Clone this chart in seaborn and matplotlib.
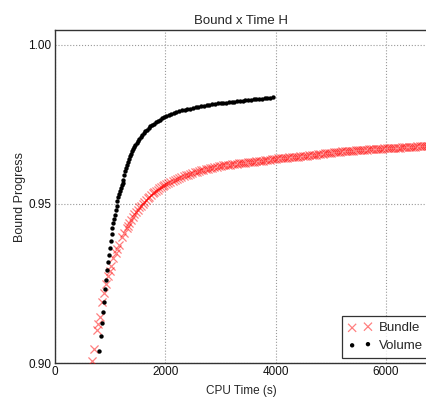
import numpy as np
import matplotlib
matplotlib.use("Agg")
import matplotlib.pyplot as plt
import seaborn as sns

# Bundle run (red crosses)
bundle_time = [670, 712, 754, 773, 815, 857, 890, 923, 965, 990, 1014, 1055, 1104, 1130, 1164,
               1210, 1249, 1297, 1320, 1350, 1380, 1410, 1440, 1470, 1500, 1530, 1560, 1590,
               1620, 1650, 1680, 1710, 1740, 1770, 1800, 1830, 1860, 1890, 1920, 1950, 1980,
               2010, 2050, 2090, 2130, 2170, 2210, 2250, 2290, 2330, 2370, 2410, 2450, 2490,
               2530, 2570, 2610, 2650, 2690, 2730, 2770, 2810, 2850, 2890, 2930, 2970,
               3010, 3050, 3090, 3130, 3170, 3210, 3250, 3290, 3330, 3370, 3410, 3450, 3490,
               3530, 3570, 3610, 3650, 3690, 3730, 3770, 3810, 3850, 3890, 3930, 3970, 4010,
               4050, 4090, 4130, 4170, 4210, 4250, 4290, 4330, 4370, 4410, 4450, 4490, 4530,
               4570, 4610, 4650, 4690, 4730, 4770, 4810, 4850, 4890, 4930, 4970, 5010, 5050,
               5090, 5130, 5170, 5210, 5250, 5290, 5330, 5370, 5410, 5450, 5490, 5530, 5570,
               5610, 5650, 5690, 5730, 5770, 5810, 5850, 5890, 5930, 5970, 6010, 6050, 6090,
               6130, 6170, 6210, 6250, 6290, 6330, 6370, 6410, 6450, 6490, 6530, 6570, 6610,
               6650, 6690, 6730, 6770]
bundle_bound = [.9007, .9043, .9104, .9122, .9144, .9193, .9220, .9248, .9274, .9290, .9305, .9329,
                .9345, .9358, .9371, .9395, .9410, .9424, .9432, .9441, .9450, .9459, .9467, .9475,
                .9482, .9489, .9495, .9501, .9507, .9512, .9518, .9523, .9528, .9533, .9537, .9541,
                .9545, .9549, .9552, .9556, .9559,
                .9562, .9565, .9569, .9572, .9575, .9579, .9582, .9585, .9587, .9590, .9592, .9595,
                .9597, .9600, .9602, .9604, .9606, .9608, .9610, .9611, .9613, .9614, .9616, .9617,
                .9619, .9620, .9621, .9622, .9623, .9624, .9625, .9626, .9627, .9628, .9628, .9629,
                .9630, .9631, .9632, .9632, .9633, .9634, .9635, .9636, .9636, .9637, .9638, .9639,
                .9640, .9641, .9642, .9643, .9644, .9644, .9645, .9646, .9647, .9647, .9648, .9649,
                .9649, .9650, .9651, .9651, .9652, .9653, .9654, .9654, .9655, .9656, .9657, .9658,
                .9659, .9659, .9660, .9661, .9662, .9663, .9663, .9664, .9665, .9665, .9666, .9667,
                .9667, .9668, .9669, .9669, .9670, .9670, .9671, .9671, .9672, .9672, .9673, .9673,
                .9673, .9674, .9674, .9675, .9675, .9675, .9676, .9676, .9677, .9677, .9677, .9678,
                .9678, .9679, .9679, .9679, .9680, .9680, .9681, .9681, .9681, .9682, .9682, .9682]

# Volume run (black dots)
volume_time = [805, 827, 845, 863, 885, 905, 922, 938, 955, 972, 990, 1008, 1025, 1042, 1058, 1073,
               1088, 1102, 1116, 1130, 1145, 1160, 1176, 1192, 1208, 1224, 1240, 1256, 1272, 1288,
               1305, 1322, 1340, 1358, 1376, 1395, 1415, 1436, 1458, 1480, 1504, 1528, 1554, 1580,
               1608, 1636, 1666, 1696, 1728, 1760, 1794, 1828, 1864, 1900, 1940, 1980, 2020, 2060,
               2100, 2150, 2200, 2250, 2300, 2350, 2400, 2450, 2500, 2550, 2600, 2650, 2700, 2750,
               2800, 2850, 2900, 2950, 3000, 3050, 3100, 3150, 3200, 3250, 3300, 3350, 3400, 3450,
               3500, 3550, 3600, 3650, 3700, 3750, 3800, 3850, 3900, 3950]
volume_bound = [.9039, .9086, .9125, .9161, .9192, .9233, .9262, .9292, .9318, .9340, .9362, .9385,
                .9405, .9424, .9440, .9453, .9466, .9480, .9495, .9510, .9521, .9531, .9540, .9550,
                .9560, .9566, .9575, .9590, .9603, .9613, .9624, .9632, .9641, .9651, .9658, .9665,
                .9672, .9679, .9685, .9691, .9698, .9705, .9711, .9717, .9723, .9729, .9734, .9739,
                .9744, .9749, .9753, .9757, .9761, .9765, .9769, .9773, .9776, .9779, .9782, .9785,
                .9788, .9791, .9794, .9796, .9798, .9800, .9802, .9804, .9806, .9807, .9809, .9810,
                .9812, .9813, .9815, .9816, .9817, .9818, .9819, .9820, .9821, .9822, .9823, .9824,
                .9825, .9826, .9827, .9828, .9829, .9830, .9831, .9831, .9832, .9833, .9834, .9835]

x_ticks = [0, 2000, 4000, 6000]
y_ticks = [0.90, 0.95, 1.00]

sns.set_style("white")
plt.rcParams['font.family'] = ['Liberation Sans', 'DejaVu Sans']

fig = plt.figure(figsize=(4.27, 4.01), dpi=100)
ax = fig.add_axes([55 / 427, 38 / 401, 372 / 427, 333 / 401])

sns.scatterplot(x=bundle_time, y=bundle_bound, marker='x', color='red', s=34,
                linewidth=0.9, alpha=0.5, label='Bundle', ax=ax, zorder=3)
sns.scatterplot(x=volume_time, y=volume_bound, marker='o', color='black', s=10,
                linewidth=0, label='Volume', ax=ax, zorder=4)

ax.set_xlim(0, 6743)
ax.set_ylim(0.90, 1.0047)
ax.set_xticks(x_ticks)
ax.set_yticks(y_ticks)
ax.set_yticklabels([f"{v:.2f}" for v in y_ticks])
ax.tick_params(labelsize=8.5, length=0, pad=2.5, labelcolor='#111111')
ax.grid(True, linestyle=':', color='#999999', linewidth=0.8)
ax.set_axisbelow(True)
for side in ['left', 'bottom', 'top']:
    ax.spines[side].set_color('#333333')
    ax.spines[side].set_linewidth(1.0)
ax.spines['right'].set_visible(False)

ax.set_title("Bound x Time H", fontsize=9.5, pad=4)
ax.set_xlabel("CPU Time (s)", fontsize=8.5, labelpad=5)
ax.set_ylabel("Bound Progress", fontsize=9, labelpad=1.5)

leg = ax.legend(loc='lower right', bbox_to_anchor=(1.022, -0.004), scatterpoints=2,
                fontsize=9.5, frameon=True, fancybox=False, borderpad=0.45,
                handletextpad=0.5, labelspacing=0.4, handlelength=1.8)
leg.get_frame().set_edgecolor('black')
leg.get_frame().set_linewidth(0.9)

fig.savefig("out.png", dpi=100)
